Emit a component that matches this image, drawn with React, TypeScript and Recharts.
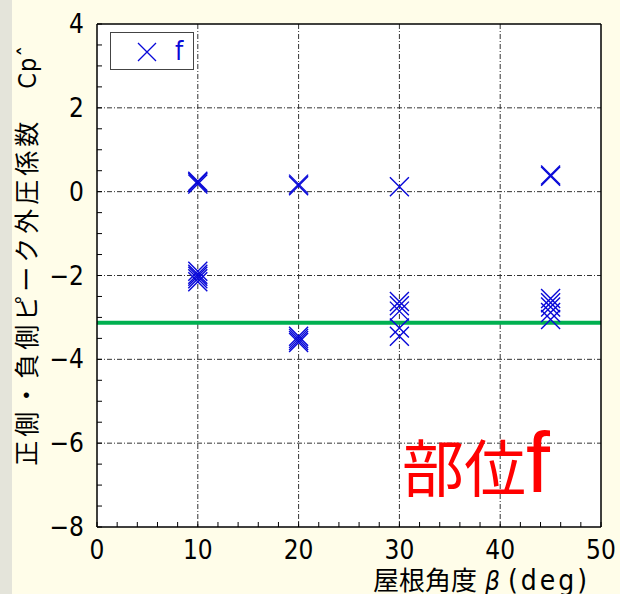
import { ScatterChart, Scatter, XAxis, YAxis, CartesianGrid, ReferenceLine } from 'recharts'

// roof pitch (deg) and the peak Cp values measured at each pitch
const ROOF_ANGLES = [10, 20, 30, 45]
const POSITIVE_CP = [
  [0.18, 0.22, 0.25],
  [0.14, 0.18],
  [0.12],
  [0.37, 0.4],
]
const NEGATIVE_CP = [
  [-1.9, -1.97, -2.02, -2.08, -2.15],
  [-3.45, -3.5, -3.55, -3.6],
  [-2.62, -2.72, -2.85, -3.25, -3.45],
  [-2.55, -2.65, -2.75, -2.88, -3.05],
]
const DESIGN_CP = -3.13

const X_MAJOR = [0, 10, 20, 30, 40, 50]
const Y_MAJOR = [-8, -6, -4, -2, 0, 2, 4]
const X_MINOR_STEP = 2
const Y_MINOR_STEP = 0.5

const points = ROOF_ANGLES.flatMap((beta, i) =>
  [...POSITIVE_CP[i], ...NEGATIVE_CP[i]].map((cp) => ({ beta, cp })),
)

function steps(lo: number, hi: number, step: number) {
  const out: number[] = []
  for (let v = lo; v <= hi + 1e-9; v += step) out.push(Math.round(v * 100) / 100)
  return out
}
const xTicks = steps(X_MAJOR[0], X_MAJOR[X_MAJOR.length - 1], X_MINOR_STEP)
const yTicks = steps(Y_MAJOR[0], Y_MAJOR[Y_MAJOR.length - 1], Y_MINOR_STEP)

const BLUE = '#0808d8'
const NUM_FONT = '"Liberation Sans Narrow", "DejaVu Sans Condensed", "Liberation Sans", sans-serif'
const JP_FONT = '"Noto Sans CJK JP", sans-serif'

const W = 620
const H = 594

const fmt = (v: number) => (v < 0 ? `\u2212${Math.abs(v)}` : `${v}`)

function XMark({ cx, cy, r = 9.5, w = 1.4 }: any) {
  return (
    <path
      d={`M${cx - r},${cy - r}L${cx + r},${cy + r}M${cx - r},${cy + r}L${cx + r},${cy - r}`}
      stroke={BLUE}
      strokeWidth={w}
      fill="none"
    />
  )
}

function BottomTick({ x, y, payload }: any) {
  const major = X_MAJOR.includes(payload.value)
  return (
    <g>
      <line x1={x} x2={x} y1={y} y2={y - 5} stroke="#000" />
      {major && (
        <text x={x} y={y + 32} textAnchor="middle" fontSize={26} fontFamily={NUM_FONT} fill="#000">
          {fmt(payload.value)}
        </text>
      )}
    </g>
  )
}

function TopTick({ x, y }: any) {
  return <line x1={x} x2={x} y1={y} y2={y + 5} stroke="#000" />
}

function LeftTick({ x, y, payload }: any) {
  const major = Y_MAJOR.includes(payload.value)
  return (
    <g>
      <line x1={x} x2={x + 5} y1={y} y2={y} stroke="#000" />
      {major && (
        <text x={x - 13} y={y + 9} textAnchor="end" fontSize={26} fontFamily={NUM_FONT} fill="#000">
          {fmt(payload.value)}
        </text>
      )}
    </g>
  )
}

function RightTick({ x, y }: any) {
  return <line x1={x} x2={x - 5} y1={y} y2={y} stroke="#000" />
}

function LegendBox() {
  return (
    <div
      style={{
        position: 'absolute',
        left: 110,
        top: 32,
        width: 84,
        height: 38,
        boxSizing: 'border-box',
        background: '#fff',
        border: '1.5px solid #444',
        display: 'flex',
        alignItems: 'center',
      }}
    >
      <svg width={50} height={36}>
        <XMark cx={36} cy={19} r={9} w={1.3} />
      </svg>
      <span style={{ color: BLUE, fontFamily: NUM_FONT, fontSize: 26, marginLeft: 14, lineHeight: 1 }}>f</span>
    </div>
  )
}

export default function App() {
  return (
    <div
      style={{
        position: 'absolute',
        left: 0,
        top: 0,
        width: W,
        height: H,
        overflow: 'hidden',
        background: '#fffde9',
      }}
    >
      <div style={{ position: 'absolute', left: 0, top: 0, width: 12, height: H, background: '#e4e4da' }} />
      <ScatterChart width={W} height={H} margin={{ top: 0, right: 0, bottom: 0, left: 0 }}>
        <CartesianGrid
          verticalValues={X_MAJOR.slice(1, -1)}
          horizontalValues={Y_MAJOR.slice(1, -1)}
          stroke="#333"
          strokeDasharray="5 2 1 2"
          fill="#fff"
          fillOpacity={1}
        />
        <XAxis
          dataKey="beta"
          type="number"
          domain={[0, 50]}
          ticks={xTicks}
          interval={0}
          height={67}
          tickSize={0}
          tickMargin={0}
          tickLine={false}
          tick={<BottomTick />}
          axisLine={{ stroke: '#000', strokeWidth: 1.5 }}
          allowDataOverflow
        />
        <XAxis
          xAxisId="top"
          orientation="top"
          type="number"
          domain={[0, 50]}
          ticks={xTicks}
          interval={0}
          height={24}
          tickSize={0}
          tickMargin={0}
          tickLine={false}
          tick={<TopTick />}
          axisLine={{ stroke: '#000', strokeWidth: 1.5 }}
        />
        <YAxis
          dataKey="cp"
          type="number"
          domain={[-8, 4]}
          ticks={yTicks}
          interval={0}
          width={97}
          tickSize={0}
          tickMargin={0}
          tickLine={false}
          tick={<LeftTick />}
          axisLine={{ stroke: '#000', strokeWidth: 1.5 }}
          allowDataOverflow
        />
        <YAxis
          yAxisId="right"
          orientation="right"
          type="number"
          domain={[-8, 4]}
          ticks={yTicks}
          interval={0}
          width={19}
          tickSize={0}
          tickMargin={0}
          tickLine={false}
          tick={<RightTick />}
          axisLine={{ stroke: '#000', strokeWidth: 1.5 }}
        />
        <Scatter
          name="f"
          data={points}
          isAnimationActive={false}
          shape={(p: any) => <XMark cx={p.cx} cy={p.cy} />}
        />
        <ReferenceLine y={DESIGN_CP} stroke="#00b050" strokeWidth={4} />
      </ScatterChart>
      <LegendBox />
      <div
        style={{
          position: 'absolute',
          left: 25 - 220,
          top: 255 - 15,
          width: 440,
          height: 30,
          lineHeight: '30px',
          textAlign: 'center',
          transform: 'rotate(-90deg)',
          fontFamily: JP_FONT,
          fontSize: 25,
          letterSpacing: 4,
          color: '#000',
          whiteSpace: 'nowrap',
        }}
      >
        正側・負側ピーク外圧係数　<span style={{ fontFamily: NUM_FONT, letterSpacing: 1 }}>Cpˆ</span>
      </div>
      <div
        style={{
          position: 'absolute',
          left: 373,
          top: 565,
          fontFamily: JP_FONT,
          fontSize: 26,
          lineHeight: 1.1,
          color: '#000',
          whiteSpace: 'nowrap',
        }}
      >
        屋根角度
        <i style={{ fontFamily: NUM_FONT, margin: '0 8px 0 8px' }}>β</i>
        <span style={{ fontFamily: NUM_FONT, fontSize: 28, letterSpacing: 3 }}>(deg)</span>
      </div>
      <div
        style={{
          position: 'absolute',
          left: 402,
          top: 434,
          fontFamily: JP_FONT,
          fontSize: 62,
          color: '#ff0000',
          whiteSpace: 'nowrap',
          lineHeight: 1,
        }}
      >
        部位<span style={{ fontFamily: '"Liberation Sans", sans-serif', fontSize: 86, lineHeight: 0 }}>f</span>
      </div>
    </div>
  )
}
